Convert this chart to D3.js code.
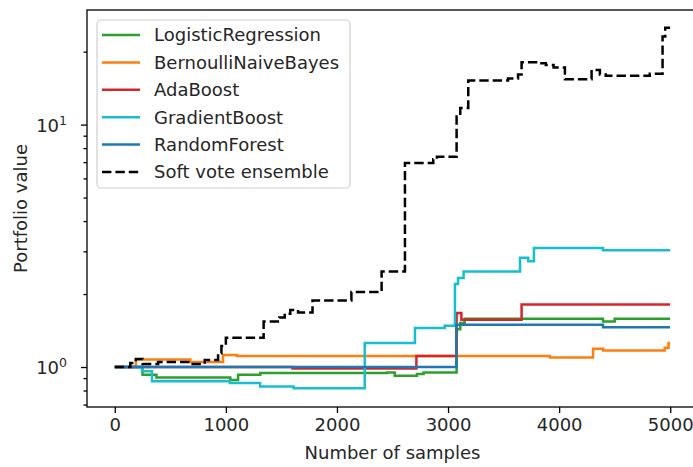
<!DOCTYPE html>
<html>
<head>
<meta charset="utf-8">
<script src="https://cdn.jsdelivr.net/npm/d3@7"></script>
<style>
  body { margin: 0; background: #fff; }
  text { font-family: "DejaVu Sans", sans-serif; fill: #262626; }
</style>
</head>
<body>
<svg id="chart" width="693" height="467"></svg>
<script>
// ---- data (sample index where the value changes, value from there on) ----
var seriesNames = ["LogisticRegression", "BernoulliNaiveBayes", "AdaBoost", "GradientBoost", "RandomForest", "Soft vote ensemble"];
var seriesColors = ["#2ca02c", "#ff7f0e", "#d62728", "#17becf", "#1f77b4", "#000000"];

var lrSamples = [0, 250, 375, 1040, 1110, 1310, 2450, 2520, 2720, 2780, 3077, 3110, 3150, 4395, 4500, 4999];
var lrValues  = [1.0, 0.93, 0.905, 0.885, 0.93, 0.944, 0.95, 0.921, 0.936, 0.95, 1.43, 1.52, 1.58, 1.54, 1.58, 1.58];

var nbSamples = [0, 190, 680, 975, 1100, 3917, 4305, 4397, 4950, 4985, 4999];
var nbValues  = [1.0, 1.075, 1.05, 1.12, 1.11, 1.095, 1.19, 1.17, 1.2, 1.256, 1.256];

var adaSamples = [0, 1600, 2715, 3077, 3120, 3662, 4999];
var adaValues  = [1.0, 0.985, 1.11, 1.67, 1.567, 1.81, 1.81];

var gbSamples = [0, 245, 335, 1036, 1308, 1610, 2250, 2702, 2970, 3062, 3090, 3140, 3648, 3722, 3773, 4395, 4999];
var gbValues  = [1.0, 0.96, 0.873, 0.859, 0.832, 0.817, 1.256, 1.45, 1.48, 2.2, 2.33, 2.48, 2.82, 2.73, 3.1, 3.03, 3.03];

var rfSamples = [0, 3075, 4395, 4999];
var rfValues  = [1.0, 1.495, 1.46, 1.46];

var ensSamples = [0, 140, 190, 250, 390, 690, 810, 930, 960, 1000, 1340, 1480, 1530, 1580, 1650, 1780, 2130, 2402, 2612, 2867, 2900, 3077, 3110, 3182, 3540, 3630, 3662, 3820, 3880, 3950, 4052, 4292, 4367, 4420, 4816, 4931, 4955, 4999];
var ensValues  = [1.0, 1.04, 1.08, 1.03, 1.05, 1.03, 1.07, 1.14, 1.22, 1.32, 1.54, 1.6, 1.66, 1.72, 1.68, 1.88, 2.04, 2.48, 6.95, 7.2, 7.36, 10.8, 11.7, 15.2, 15.5, 16.1, 18.1, 17.9, 17.6, 17.2, 15.4, 16.8, 16.1, 15.9, 16.2, 23.1, 25.1, 25.1];

var xTicks = [0, 1000, 2000, 3000, 4000, 5000];
var yMajorTicks = [1, 10];
var yMinorTicks = [0.7, 0.8, 0.9, 2, 3, 4, 5, 6, 7, 8, 9, 20];

var allSamples = [lrSamples, nbSamples, adaSamples, gbSamples, rfSamples, ensSamples];
var allValues = [lrValues, nbValues, adaValues, gbValues, rfValues, ensValues];

// ---- layout ----
var svg = d3.select("#chart");
var plot = { left: 87, right: 698, top: 10, bottom: 407 };
var fontSize = "18px";

var x = d3.scaleLinear().domain([-250, 5250]).range([plot.left, plot.right]);
var y = d3.scaleLog().domain([0.684, 29.7]).range([plot.bottom, plot.top]);

svg.append("rect").attr("width", 693).attr("height", 467).attr("fill", "#fff");

// x axis
var xAxis = svg.append("g")
  .attr("transform", "translate(0," + plot.bottom + ")")
  .call(d3.axisBottom(x).tickValues(xTicks).tickSize(6).tickPadding(5).tickFormat(d3.format("d")));
xAxis.selectAll("text").style("font-size", fontSize).attr("dy", "0.71em");

// y axis, minor ticks first then major
svg.append("g")
  .attr("transform", "translate(" + plot.left + ",0)")
  .call(d3.axisLeft(y).tickValues(yMinorTicks).tickSize(3.5).tickFormat(""));

var yAxis = svg.append("g")
  .attr("transform", "translate(" + plot.left + ",0)")
  .call(d3.axisLeft(y).tickValues(yMajorTicks).tickSize(6).tickFormat(""));

// 10^k style labels
yAxis.selectAll(".tick").each(function(d) {
  var t = d3.select(this).append("text")
    .attr("x", -20)
    .attr("dy", "0.38em")
    .attr("text-anchor", "end")
    .style("font-size", fontSize);
  t.append("tspan").text("10");
  t.append("tspan")
    .attr("dy", "-0.55em")
    .style("font-size", "12.5px")
    .text(Math.round(Math.log10(d)));
});

svg.selectAll(".domain").remove();
svg.selectAll(".tick line").attr("stroke", "#000").attr("stroke-width", 1.3);

// spines
svg.append("rect")
  .attr("x", plot.left).attr("y", plot.top)
  .attr("width", plot.right - plot.left).attr("height", plot.bottom - plot.top)
  .attr("fill", "none").attr("stroke", "#000").attr("stroke-width", 1.3);

// axis titles
svg.append("text")
  .attr("x", x(2500)).attr("y", 459)
  .attr("text-anchor", "middle")
  .style("font-size", fontSize)
  .text("Number of samples");

svg.append("text")
  .attr("transform", "translate(27," + ((plot.top + plot.bottom) / 2) + ") rotate(-90)")
  .attr("text-anchor", "middle")
  .style("font-size", fontSize)
  .text("Portfolio value");

// ---- lines ----
var line = d3.line()
  .x(function(d) { return x(d[0]); })
  .y(function(d) { return y(d[1]); })
  .curve(d3.curveStepAfter);

allSamples.forEach(function(samples, i) {
  var pts = samples.map(function(s, j) { return [s, allValues[i][j]]; });
  svg.append("path")
    .datum(pts)
    .attr("d", line)
    .attr("fill", "none")
    .attr("stroke", seriesColors[i])
    .attr("stroke-width", 2.5)
    .attr("stroke-dasharray", i === 5 ? "9.4,4" : null);
});

// ---- legend ----
var legend = svg.append("g");
legend.append("rect")
  .attr("x", 97).attr("y", 20)
  .attr("width", 253).attr("height", 168)
  .attr("rx", 4).attr("ry", 4)
  .attr("fill", "#fff").attr("fill-opacity", 0.8)
  .attr("stroke", "#d0d0d0").attr("stroke-width", 1.2);

var rows = legend.selectAll(".row")
  .data(seriesNames)
  .enter()
  .append("g")
    .attr("class", "row")
    .attr("transform", function(d, i) { return "translate(0," + (35 + i * 27.4) + ")"; });

rows.append("line")
  .attr("x1", 102).attr("x2", 140)
  .attr("stroke", function(d, i) { return seriesColors[i]; })
  .attr("stroke-width", 2.5)
  .attr("stroke-dasharray", function(d, i) { return i === 5 ? "9.4,4" : null; });

rows.append("text")
  .attr("x", 154)
  .attr("dy", "0.36em")
  .style("font-size", fontSize)
  .text(function(d) { return d; });
</script>
</body>
</html>
